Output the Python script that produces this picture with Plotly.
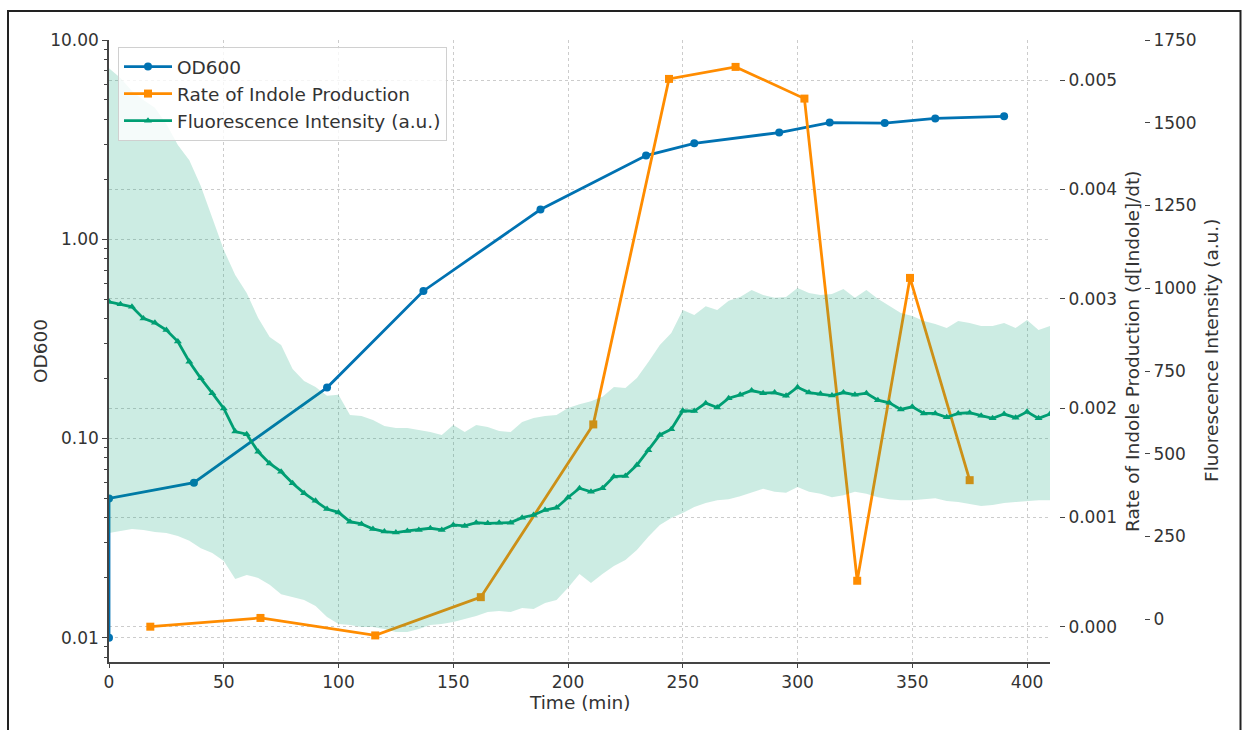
import plotly.graph_objects as go

# OD600 growth curve (log scale, left axis)
od_time = [0, 0, 37, 95, 137, 188, 234, 255, 292, 314, 338, 360, 390]
od_value = [0.01, 0.05, 0.06, 0.18, 0.55, 1.41, 2.63, 3.03, 3.43, 3.85, 3.83, 4.04, 4.14]

# Rate of indole production (first right axis)
indole_time = [18, 66, 116, 162, 211, 244, 273, 303, 326, 349, 375]
indole_rate = [0.0, 0.00008, -0.00008, 0.00027, 0.00185, 0.00501, 0.00512,
               0.00483, 0.00042, 0.00319, 0.00134]

# Fluorescence reporter, sampled every 5 min (second right axis)
fl_time = list(range(0, 411, 5))
fl_mean = [959, 952, 944, 909, 896, 874, 839, 778, 728, 683, 637, 567, 559, 506, 471,
           446, 411, 381, 358, 333, 323, 295, 288, 273, 265, 262, 267, 270, 275, 270,
           285, 282, 292, 290, 292, 292, 307, 315, 330, 337, 368, 396, 385, 396, 431,
           433, 466, 511, 557, 574, 630, 629, 653, 640, 668, 678, 691, 683, 685, 675,
           701, 685, 681, 676, 685, 678, 683, 662, 654, 634, 642, 622, 622, 610, 622,
           624, 615, 607, 620, 609, 627, 607, 620]
fl_upper = [1665, 1635, 1596, 1569, 1545, 1496, 1433, 1387, 1309, 1215, 1116, 1040, 986,
            910, 853, 829, 756, 720, 702, 675, 678, 617, 614, 602, 584, 578, 578, 572,
            566, 557, 587, 566, 587, 581, 569, 566, 596, 608, 614, 617, 638, 650, 659,
            672, 702, 699, 729, 777, 829, 865, 934, 919, 946, 934, 962, 974, 995, 980,
            971, 974, 1001, 986, 980, 983, 998, 971, 995, 968, 946, 925, 916, 901, 892,
            880, 901, 895, 886, 886, 895, 880, 904, 874, 886]
fl_lower = [261, 267, 273, 270, 264, 261, 252, 237, 215, 200, 176, 122, 134, 125, 104,
            76, 67, 58, 40, 7, -14, -17, -23, -23, -29, -38, -38, -29, -17, -14, -8, 1,
            10, 22, 25, 22, 34, 31, 49, 58, 95, 137, 110, 137, 161, 179, 209, 249, 285,
            306, 321, 339, 351, 360, 363, 372, 382, 394, 385, 382, 400, 385, 379, 369,
            375, 385, 379, 369, 363, 360, 360, 363, 366, 357, 354, 348, 342, 345, 351,
            354, 357, 360, 360]

# Axis tick definitions
x_ticks = [0, 50, 100, 150, 200, 250, 300, 350, 400]
od_ticks = [0.01, 0.1, 1, 10]
od_tick_text = ["0.01", "0.10", "1.00", "10.00"]
od_minor = [0.008, 0.009] + [m * d for d in (0.01, 0.1, 1) for m in range(2, 10)]
indole_ticks = [0.0, 0.001, 0.002, 0.003, 0.004, 0.005]
fl_ticks = [0, 250, 500, 750, 1000, 1250, 1500, 1750]

BLUE = "#0072B2"
ORANGE = "#FF8C00"
GREEN = "#009E73"
BAND = "rgba(0,158,115,0.2)"
TEXT = "#333333"
GRID = "#cccccc"
FONT = "DejaVu Sans"

W, H = 1244, 730
left, right, top, bottom = 109, 1050, 40, 662

fig = go.Figure()

fig.add_trace(go.Scatter(
    x=od_time, y=od_value, name="OD600", mode="lines+markers", legendgroup="od",
    line=dict(color=BLUE, width=2.8), marker=dict(symbol="circle", size=8, color=BLUE),
    yaxis="y"))

fig.add_trace(go.Scatter(
    x=indole_time, y=indole_rate, name="Rate of Indole Production", mode="lines+markers",
    legendgroup="indole",
    line=dict(color=ORANGE, width=2.8), marker=dict(symbol="square", size=8, color=ORANGE),
    yaxis="y2"))

fig.add_trace(go.Scatter(
    x=fl_time, y=fl_lower, mode="lines", line=dict(width=0, color=BAND),
    showlegend=False, hoverinfo="skip", yaxis="y3", legendgroup="fl"))
fig.add_trace(go.Scatter(
    x=fl_time, y=fl_upper, mode="lines", line=dict(width=0, color=BAND),
    fill="tonexty", fillcolor=BAND, showlegend=False, hoverinfo="skip", yaxis="y3",
    legendgroup="fl"))
fig.add_trace(go.Scatter(
    x=fl_time, y=fl_mean, name="Fluorescence Intensity (a.u.)", mode="lines+markers",
    legendgroup="fl",
    line=dict(color=GREEN, width=2.8),
    marker=dict(symbol="triangle-up", size=7, color=GREEN),
    yaxis="y3"))

tick_font = dict(family=FONT, size=17, color=TEXT)

fig.update_layout(
    width=W, height=H,
    margin=dict(l=0, r=0, t=0, b=0, autoexpand=False),
    paper_bgcolor="white", plot_bgcolor="white",
    font=dict(family=FONT, size=17, color=TEXT),
    showlegend=True,
    legend=dict(
        x=118 / W, y=1 - 47 / H, xanchor="left", yanchor="top",
        bgcolor="rgba(255,255,255,0.8)", bordercolor="#d0d0d0", borderwidth=1,
        font=dict(family=FONT, size=18.5, color=TEXT), traceorder="grouped",
        tracegroupgap=0, itemwidth=48,
    ),
    xaxis=dict(
        domain=[left / W, right / W], range=[0, 410],
        tickvals=x_ticks, ticks="outside", ticklen=4, tickwidth=1, tickcolor="#444",
        showline=True, linecolor="#444", linewidth=1.5,
        showgrid=True, gridcolor=GRID, griddash="3px,3px", gridwidth=1,
        zeroline=False, tickfont=tick_font, anchor="y", automargin=False,
    ),
    yaxis=dict(
        domain=[1 - bottom / H, 1 - top / H], type="log", range=[-2.122, 1.0],
        tickvals=od_ticks, ticktext=od_tick_text,
        ticks="outside", ticklen=5, tickwidth=1, tickcolor="#444",
        minor=dict(tickvals=od_minor, ticks="outside", ticklen=3, tickcolor="#444",
                   showgrid=False),
        showline=True, linecolor="#444", linewidth=1.5,
        showgrid=True, gridcolor=GRID, griddash="3px,3px", gridwidth=1,
        zeroline=False, tickfont=tick_font, anchor="x", automargin=False,
    ),
    yaxis2=dict(
        overlaying="y", side="right", anchor="free", position=1059 / W,
        range=[-0.000323, 0.005366], tickvals=indole_ticks, tickformat=".3f",
        ticks="outside", ticklen=5, tickwidth=1, tickcolor="#444",
        showline=False, showgrid=True, gridcolor=GRID, griddash="3px,3px", gridwidth=1,
        zeroline=False, tickfont=tick_font, automargin=False,
    ),
    yaxis3=dict(
        overlaying="y", side="right", anchor="free", position=1144 / W,
        range=[-129, 1750], tickvals=fl_ticks,
        ticks="outside", ticklen=5, tickwidth=1, tickcolor="#444",
        showline=False, showgrid=False, zeroline=False, tickfont=tick_font,
        automargin=False,
    ),
)

title_font = dict(family=FONT, size=18.5, color=TEXT)
fig.add_annotation(text="OD600", x=40 / W, y=1 - 351 / H, xref="paper", yref="paper",
                   textangle=-90, showarrow=False, font=title_font,
                   xanchor="center", yanchor="middle")
fig.add_annotation(text="Time (min)", x=579 / W, y=1 - 702 / H, xref="paper", yref="paper",
                   showarrow=False, font=title_font, xanchor="center", yanchor="middle")
fig.add_annotation(text="Rate of Indole Production (d[Indole]/dt)", x=1132 / W,
                   y=1 - 351 / H, xref="paper", yref="paper", textangle=-90,
                   showarrow=False, font=title_font, xanchor="center", yanchor="middle")
fig.add_annotation(text="Fluorescence Intensity (a.u.)", x=1211 / W, y=1 - 351 / H,
                   xref="paper", yref="paper", textangle=-90, showarrow=False,
                   font=title_font, xanchor="center", yanchor="middle")

# Outer frame around the figure
fig.add_shape(type="rect", xref="paper", yref="paper",
              x0=8 / W, x1=1240.5 / W, y0=-0.05, y1=1 - 11 / H,
              line=dict(color="#222222", width=2), fillcolor="rgba(0,0,0,0)", layer="above")

fig.write_html("out.html")
